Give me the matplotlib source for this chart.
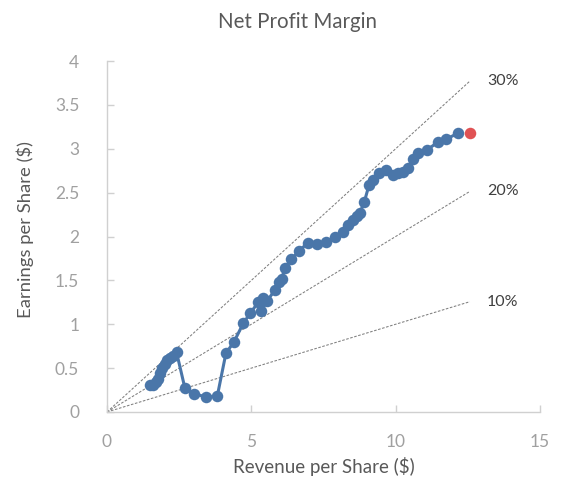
import matplotlib
matplotlib.use("Agg")
import matplotlib.pyplot as plt

plt.rcParams['font.family'] = ['Lato', 'DejaVu Sans']

revenue = [1.50, 1.60, 1.70, 1.78, 1.85, 1.92, 2.00, 2.08, 2.18, 2.30, 2.41,
           2.70, 3.02, 3.43, 3.82, 4.12, 4.40, 4.72, 4.97, 5.24, 5.42, 5.35,
           5.53, 5.82, 5.97, 6.05, 6.17, 6.39, 6.66, 6.97, 7.29, 7.58, 7.90,
           8.16, 8.36, 8.51, 8.65, 8.76, 8.91, 9.08, 9.22, 9.43, 9.66, 9.92,
           10.09, 10.26, 10.43, 10.61, 10.78, 11.10, 11.48, 11.76, 12.17]
eps = [0.31, 0.31, 0.34, 0.38, 0.44, 0.50, 0.55, 0.59, 0.62, 0.64, 0.68,
       0.27, 0.21, 0.17, 0.18, 0.67, 0.80, 1.01, 1.13, 1.25, 1.30, 1.15,
       1.26, 1.39, 1.48, 1.52, 1.64, 1.74, 1.84, 1.93, 1.91, 1.94, 1.99,
       2.05, 2.13, 2.19, 2.23, 2.27, 2.39, 2.59, 2.64, 2.72, 2.76, 2.70,
       2.72, 2.74, 2.78, 2.88, 2.95, 2.99, 3.08, 3.11, 3.18]
latest_revenue = [12.57]
latest_eps = [3.18]

margins = [0.10, 0.20, 0.30]
margin_labels = ["10%", "20%", "30%"]
line_end = 12.57

x_ticks = [0, 5, 10, 15]
y_ticks = [0, 0.5, 1, 1.5, 2, 2.5, 3, 3.5, 4]
y_tick_labels = ["0", "0.5", "1", "1.5", "2", "2.5", "3", "3.5", "4"]

fig = plt.figure(figsize=(5.61, 4.79), dpi=100)
ax = fig.add_axes([107/561, 1 - 412/479, (540-107)/561, (412-61)/479])

for m, lab in zip(margins, margin_labels):
    ax.plot([0, line_end], [0, m * line_end], linestyle=(0, (2.5, 1.5)),
            color='#7f7f7f', linewidth=0.75, zorder=1)
    ax.text(line_end + 0.6, m * line_end, lab, fontsize=11.5, color='#404040',
            va='center', ha='left')

blue = '#4a76a9'
ax.plot(revenue, eps, color=blue, linewidth=2.2, marker='o', markersize=8.3,
        markeredgewidth=0, zorder=3, solid_capstyle='round')
ax.plot(latest_revenue, latest_eps, linestyle='none', marker='o', markersize=8.3,
        color='#e05254', markeredgewidth=0, zorder=4)

ax.set_xlim(0, 15)
ax.set_ylim(0, 4)
ax.set_xticks(x_ticks)
ax.set_yticks(y_ticks)
ax.set_yticklabels(y_tick_labels)

for s in ['top', 'right']:
    ax.spines[s].set_visible(False)
for s in ['left', 'bottom']:
    ax.spines[s].set_color('#d0d0d0')
    ax.spines[s].set_linewidth(1.0)

ax.tick_params(axis='both', direction='in', length=5, color='#d0d0d0',
               labelcolor='#a0a0a0', labelsize=12.5, width=1.0)
ax.tick_params(axis='x', pad=16)
ax.tick_params(axis='y', pad=20)

ax.set_xlabel('Revenue per Share ($)', fontsize=13.5, color='#595959', labelpad=5)
ax.set_ylabel('Earnings per Share ($)', fontsize=13.3, color='#595959', labelpad=10)
ax.yaxis.set_label_coords(-(107 - 34) / 433, 0.5 + (236.5 - 229.5) / 351)

fig.text(298/561, 1 - 22/479, 'Net Profit Margin', fontsize=14.8, color='#595959',
         ha='center', va='center')

fig.savefig('out.png', dpi=100)
